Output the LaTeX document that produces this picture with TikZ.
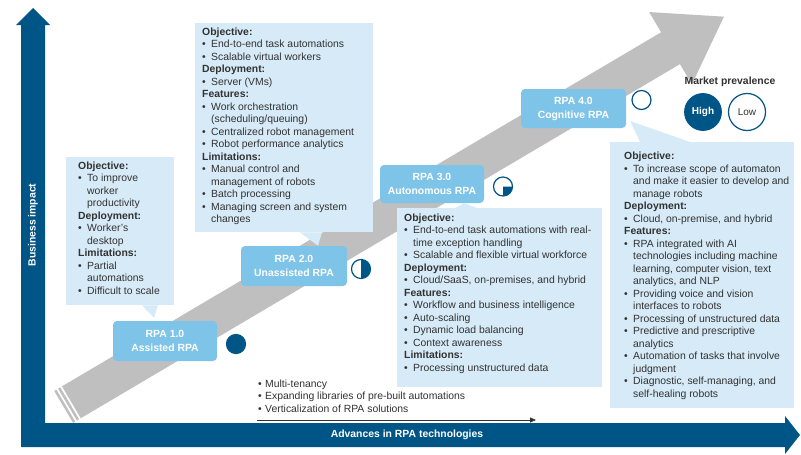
\documentclass[tikz,border=0pt]{standalone}
\usepackage{fontspec}
\setmainfont{Liberation Sans}
\usepackage{graphicx}
\usetikzlibrary{arrows.meta,calc}

\definecolor{axisblue}{RGB}{0,85,135}
\definecolor{tagblue}{RGB}{125,196,232}
\definecolor{boxblue}{RGB}{214,234,247}
\definecolor{bandgray}{RGB}{191,191,191}
\definecolor{txtgray}{RGB}{50,50,50}

\newlength{\bgap}
\setlength{\bgap}{9pt}
\newcommand{\bhead}[1]{\par\noindent\textbf{#1}}
\newcommand{\bitem}[1]{\par\hangindent=\bgap\hangafter=1\noindent
  \makebox[\bgap][l]{\textbullet}#1}

\begin{document}
\begin{tikzpicture}[x=1pt, y=-1pt,
    infobox/.style={fill=boxblue, inner xsep=0pt, anchor=north west, text=txtgray,
                    font=\fontsize{10.4}{12.5}\selectfont},
    tag/.style={fill=tagblue, rounded corners=4pt, text=white, align=center,
                inner sep=0pt, font=\fontsize{10.4}{14}\selectfont\bfseries},
    pie/.style={circle, draw=axisblue, line width=1.2pt, fill=white,
                minimum size=19pt, inner sep=0pt, outer sep=0pt},
    axislabel/.style={text=white, font=\fontsize{10.4}{12}\selectfont\bfseries}
]

% --- canvas ---
\useasboundingbox (0,0) rectangle (801,455);
\fill[white] (0,0) rectangle (801,455);

% --- gray trend band (drawn along its own axis) ---
\begin{scope}[shift={(247,298.5)}, rotate=30.58]
  \fill[bandgray] (-204,-18.5) -- (492,-18.5) -- (492,-42) -- (554,0)
                  -- (492,42) -- (492,18.5) -- (-204,18.5) -- cycle;
  \fill[bandgray] (-208.5,-18.5) rectangle (-206,18.5);
  \fill[bandgray] (-213,-18.5) rectangle (-210.5,18.5);
\end{scope}

% --- axes ---
\fill[axisblue] (16,25) -- (33,8) -- (50,25) -- (45,25) -- (45,423)
  -- (785,423) -- (785,416) -- (800,435) -- (785,454) -- (785,447)
  -- (21,447) -- (21,25) -- cycle;
\node[axislabel, rotate=90] (yaxis) at (33,225) {Business impact};
\node[axislabel] (xaxis) at (407,435) {Advances in RPA technologies};

% --- stage tags ---
\node[tag, minimum width=104pt, minimum height=40pt] (rpa1) at (165,341) {RPA 1.0\\Assisted RPA};
\node[tag, minimum width=106pt, minimum height=40pt] (rpa2) at (294,266) {RPA 2.0\\Unassisted RPA};
\node[tag, minimum width=104pt, minimum height=38pt] (rpa3) at (432,184) {RPA 3.0\\Autonomous RPA};
\node[tag, minimum width=105pt, minimum height=39pt] (rpa4) at (573.5,108.5) {RPA 4.0\\Cognitive RPA};

% --- description boxes ---
\node[infobox, inner ysep=4.4pt] (obj1) at (66,157)
  {\hspace{12pt}\parbox[t][139.2pt][t]{96pt}{\raggedright
    \bhead{Objective:}
    \bitem{To improve\newline worker\newline productivity}
    \bhead{Deployment:}
    \bitem{Worker’s\newline desktop}
    \bhead{Limitations:}
    \bitem{Partial\newline automations}
    \bitem{Difficult to scale}}\hspace{4pt}};

\node[infobox, inner ysep=4.4pt] (obj2) at (195,23)
  {\hspace{7pt}\parbox[t][200.2pt][t]{171pt}{\raggedright
    \bhead{Objective:}
    \bitem{End-to-end task automations}
    \bitem{Scalable virtual workers}
    \bhead{Deployment:}
    \bitem{Server (VMs)}
    \bhead{Features:}
    \bitem{Work orchestration\newline (scheduling/queuing)}
    \bitem{Centralized robot management}
    \bitem{Robot performance analytics}
    \bhead{Limitations:}
    \bitem{Manual control and\newline management of robots}
    \bitem{Batch processing}
    \bitem{Managing screen and system\newline changes}}\hspace{3pt}};

\node[infobox, inner ysep=5.4pt] (obj3) at (397,208)
  {\hspace{7pt}\parbox[t][168.2pt][t]{198pt}{\raggedright
    \bhead{Objective:}
    \bitem{End-to-end task automations with real-\newline time exception handling}
    \bitem{Scalable and flexible virtual workforce}
    \bhead{Deployment:}
    \bitem{Cloud/SaaS, on-premises, and hybrid}
    \bhead{Features:}
    \bitem{Workflow and business intelligence}
    \bitem{Auto-scaling}
    \bitem{Dynamic load balancing}
    \bitem{Context awareness}
    \bhead{Limitations:}
    \bitem{Processing unstructured data}}\hspace{3pt}};

\node[infobox, inner ysep=10pt] (obj4) at (610,142)
  {\hspace{14pt}\parbox[t][246pt][t]{170pt}{\raggedright
    \bhead{Objective:}
    \bitem{To increase scope of automaton\newline and make it easier to develop and\newline manage robots}
    \bhead{Deployment:}
    \bitem{Cloud, on-premise, and hybrid}
    \bhead{Features:}
    \bitem{RPA integrated with AI\newline technologies including machine\newline learning, computer vision, text\newline analytics, and NLP}
    \bitem{Providing voice and vision\newline interfaces to robots}
    \bitem{Processing of unstructured data}
    \bitem{Predictive and prescriptive\newline analytics}
    \bitem{Automation of tasks that involve\newline judgment}
    \bitem{Diagnostic, self-managing, and\newline self-healing robots}}\hspace{3pt}};

% --- callout pointers ---
\fill[boxblue] ([xshift=76pt]obj1.south west) -- ([xshift=92pt]obj1.south west)
  -- ([xshift=-11pt, yshift=3pt]rpa1.north) -- cycle;
\fill[boxblue] ([xshift=105pt]obj2.south west) -- ([xshift=127pt]obj2.south west)
  -- ([xshift=24pt]rpa2.north) -- cycle;
\fill[boxblue] ([xshift=58pt]obj3.north west) -- ([xshift=80pt]obj3.north west)
  -- ([xshift=32pt]rpa3.south) -- cycle;
\fill[boxblue] ([xshift=30pt]obj4.north west) -- ([xshift=80pt]obj4.north west)
  -- ([xshift=4pt, yshift=-12.5pt]rpa4.east) -- cycle;

% --- market prevalence balls ---
\node[pie, fill=axisblue] (pie1) at (236,344) {};
\node[pie] (pie2) at (361,269) {};
\fill[axisblue] (pie2.north) arc[start angle=90, end angle=-90, radius=9.5pt] -- cycle;
\node[pie] (pie3) at (503,186.5) {};
\fill[axisblue] (pie3.center) -- (pie3.east) arc[start angle=0, end angle=-90, radius=9.5pt] -- cycle;
\node[pie] (pie4) at (641.5,100) {};

% legend
\node[text=txtgray, font=\fontsize{10.4}{12}\selectfont\bfseries] (mkt) at (730,82) {Market prevalence};
\node[pie, fill=axisblue, minimum size=36.6pt, text=white,
      font=\fontsize{10}{12}\selectfont\bfseries] (high) at (703,112) {High};
\node[pie, minimum size=37pt, text=txtgray, font=\fontsize{10}{12}\selectfont] (low) at (747,112) {Low};

% --- further advances ---
\node[anchor=base west, inner sep=0pt, text=txtgray, font=\fontsize{10.4}{12.5}\selectfont]
  (trends) at (258,387)
  {\setlength{\bgap}{7pt}\parbox[t]{240pt}{\raggedright
    \bitem{Multi-tenancy}
    \bitem{Expanding libraries of pre-built automations}
    \bitem{Verticalization of RPA solutions}}};
\coordinate (trendstart) at (257,420);
\coordinate (trendend) at (536,420);
\draw[line width=0.8pt, txtgray, -{Triangle[length=6pt, width=5pt]}] (trendstart) -- (trendend);

\end{tikzpicture}
\end{document}
